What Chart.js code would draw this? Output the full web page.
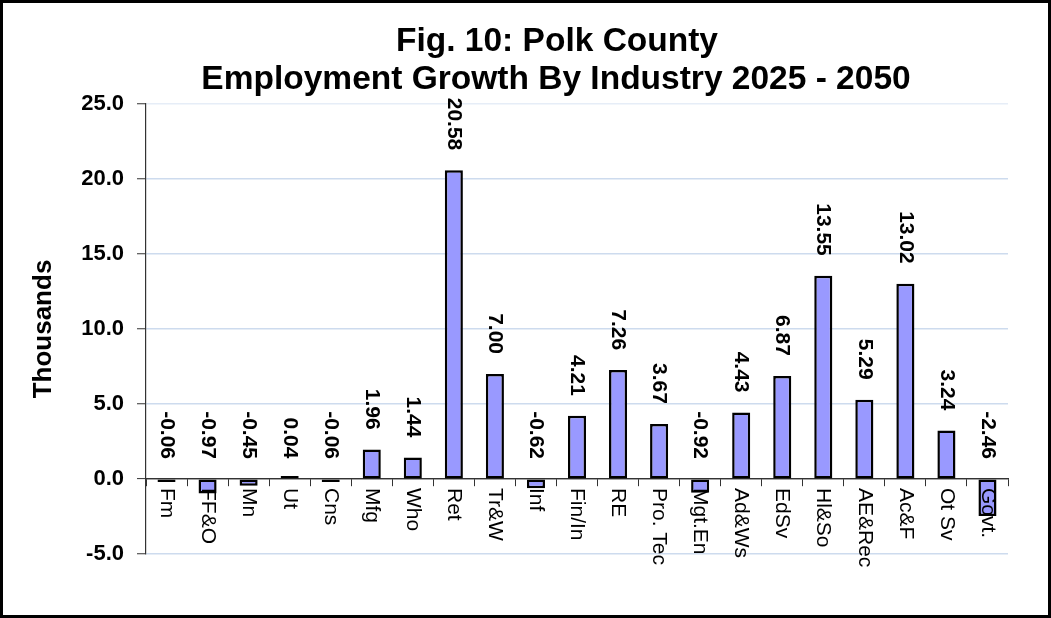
<!DOCTYPE html>
<html>
<head>
<meta charset="utf-8">
<script src="https://cdn.jsdelivr.net/npm/chart.js@4.4.1/dist/chart.umd.min.js"></script>
<style>
  html, body { margin: 0; padding: 0; background: #fff; }
  #wrap { position: relative; width: 1051px; height: 618px; }
  #frame { position: absolute; left: 0; top: 0; width: 1051px; height: 618px; box-sizing: border-box; border: 3px solid #000; pointer-events: none; }
  canvas { position: absolute; left: 0; top: 0; }
</style>
</head>
<body>
<div id="wrap">
  <canvas id="c" width="1051" height="618"></canvas>
  <div id="frame"></div>
</div>
<script>
// ---- Data ----
const titleLines = ['Fig. 10: Polk County', 'Employment Growth By Industry 2025 - 2050'];
const categories = ['Fm', 'FF&O', 'Mn', 'Ut', 'Cns', 'Mfg', 'Who', 'Ret', 'Tr&W', 'Inf', 'Fin/In', 'RE', 'Pro. Tec', 'Mgt.En', 'Ad&Ws', 'EdSv', 'Hl&So', 'AE&Rec', 'Ac&F', 'Ot Sv', 'Govt.'];
const growth = [-0.06, -0.97, -0.45, 0.04, -0.06, 1.96, 1.44, 20.58, 7.00, -0.62, 4.21, 7.26, 3.67, -0.92, 4.43, 6.87, 13.55, 5.29, 13.02, 3.24, -2.46];
const yAxisTitle = 'Thousands';
const yMin = -5, yMax = 25, yStep = 5;

const FONT = '"Liberation Sans", Arial, Helvetica, sans-serif';
Chart.defaults.font.family = FONT;
Chart.defaults.color = '#000';

const titlePlugin = {
  id: 'twoLineTitle',
  afterDraw(chart) {
    const ctx = chart.ctx;
    ctx.save();
    ctx.fillStyle = '#000';
    ctx.font = 'bold 33.5px ' + FONT;
    ctx.textAlign = 'center';
    ctx.textBaseline = 'alphabetic';
    ctx.fillText(titleLines[0], 557, 51);
    ctx.fillText(titleLines[1], 556, 89);
    ctx.restore();
  }
};

const labelsPlugin = {
  id: 'rotLabels',
  afterDatasetsDraw(chart) {
    const ctx = chart.ctx;
    const xs = chart.scales.x, ys = chart.scales.y;
    const zero = ys.getPixelForValue(0);
    const meta = chart.getDatasetMeta(0);
    ctx.save();
    ctx.fillStyle = '#000';
    // category labels, reading top to bottom, just below the zero line
    ctx.font = '21px ' + FONT;
    ctx.textAlign = 'left';
    ctx.textBaseline = 'middle';
    categories.forEach((c, i) => {
      const x = xs.getPixelForValue(i);
      ctx.save();
      ctx.translate(x, zero + 9);
      ctx.rotate(Math.PI / 2);
      ctx.fillText(c, 0, 0);
      ctx.restore();
    });
    // value labels above bars
    ctx.font = 'bold 21px ' + FONT;
    ctx.textAlign = 'right';
    meta.data.forEach((bar, i) => {
      const v = growth[i];
      const y = ys.getPixelForValue(Math.max(v, 0)) - 20;
      ctx.save();
      ctx.translate(bar.x, y);
      ctx.rotate(Math.PI / 2);
      ctx.fillText(v.toFixed(2), 0, 0);
      ctx.restore();
    });
    ctx.restore();
  }
};

new Chart(document.getElementById('c'), {
  type: 'bar',
  data: {
    labels: categories,
    datasets: [{
      data: growth,
      backgroundColor: '#9999ff',
      borderColor: '#000',
      borderWidth: 2.5,
      borderSkipped: false,
      minBarLength: 3,
      barPercentage: 0.44,
      categoryPercentage: 1.0
    }]
  },
  options: {
    responsive: false,
    animation: false,
    layout: { padding: { left: 0, right: 43, top: 104, bottom: 64 } },
    plugins: { legend: { display: false }, tooltip: { enabled: false }, title: { display: false } },
    scales: {
      x: {
        position: { y: 0 },
        afterFit: s => { s.height = 0; },
        ticks: { display: false },
        grid: { display: true, offset: true, drawOnChartArea: false, drawTicks: true, tickLength: 7, tickColor: '#333', tickWidth: 1 },
        border: { display: true, color: '#333', width: 1.2 }
      },
      y: {
        min: yMin, max: yMax,
        afterFit: s => { s.width = 146; },
        ticks: {
          stepSize: yStep,
          padding: 13,
          font: { size: 22, weight: 'bold' },
          color: '#000',
          callback: v => Number(v).toFixed(1)
        },
        grid: {
          color: c => (c.tick && c.tick.value === 0) ? '#333' : (c.tick && c.tick.value === yMax ? '#e6edf7' : '#cddbee'),
          lineWidth: c => (c.tick && c.tick.value === 0) ? 1.2 : 1.5,
          tickColor: '#333',
          tickLength: 9,
          tickWidth: 1
        },
        border: { display: true, color: '#333', width: 1.2 },
        title: { display: true, text: yAxisTitle, font: { size: 26, weight: 'bold' }, color: '#000', padding: { top: 28, bottom: 0 } }
      }
    }
  },
  plugins: [titlePlugin, labelsPlugin]
});
</script>
</body>
</html>
